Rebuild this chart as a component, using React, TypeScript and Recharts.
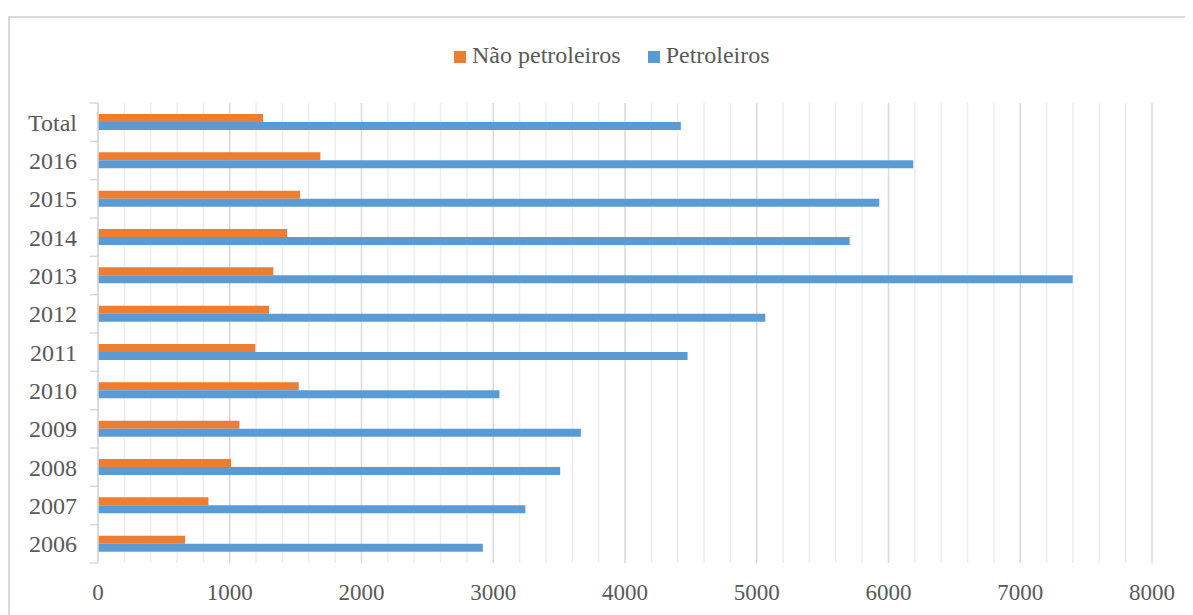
import React from 'react';
import { BarChart, Bar, XAxis, YAxis, CartesianGrid } from 'recharts';

const categories = ['Total', '2016', '2015', '2014', '2013', '2012', '2011', '2010', '2009', '2008', '2007', '2006'];
const naoPetroleiros = [1253, 1688, 1534, 1435, 1331, 1298, 1194, 1524, 1073, 1010, 838, 661];
const petroleiros = [4424, 6188, 5930, 5705, 7398, 5065, 4475, 3047, 3665, 3508, 3244, 2921];
const majorTicks = [0, 1000, 2000, 3000, 4000, 5000, 6000, 7000, 8000];
const minorTicks = [
  200, 400, 600, 800, 1200, 1400, 1600, 1800, 2200, 2400, 2600, 2800,
  3200, 3400, 3600, 3800, 4200, 4400, 4600, 4800, 5200, 5400, 5600, 5800,
  6200, 6400, 6600, 6800, 7200, 7400, 7600, 7800,
];
const xDomain = [0, 8000];
const seriesNames = ['Não petroleiros', 'Petroleiros'];
const seriesColors = ['#ED7D31', '#5B9BD5'];

const data = categories.map((c, i) => ({
  category: c,
  nao: naoPetroleiros[i],
  pet: petroleiros[i],
}));

const FONT = '"Liberation Serif", "Times New Roman", serif';
const TEXT = '#595959';
const W = 1185;
const H = 607;
const MARGIN = { top: 95, right: 41, bottom: 22, left: 10 };
const X_AXIS_H = 30;
const Y_AXIS_W = 80;
const BAND = (H - MARGIN.top - MARGIN.bottom - X_AXIS_H) / categories.length;
const TICK_SIZE = 8;
const TICK_MARGIN = 13;

const YTick = (props: any) => {
  const { x, y, payload, index } = props;
  const axisX = x + TICK_SIZE + TICK_MARGIN;
  return (
    <g>
      {index === 0 && (
        <line x1={axisX - TICK_SIZE} x2={axisX} y1={y - BAND / 2} y2={y - BAND / 2} stroke="#d9d9d9" strokeWidth={1.5} />
      )}
      <line x1={axisX - TICK_SIZE} x2={axisX} y1={y + BAND / 2} y2={y + BAND / 2} stroke="#d9d9d9" strokeWidth={1.5} />
      <text x={x} y={y} dy="0.36em" textAnchor="end" fill={TEXT} fontSize={24} fontFamily={FONT}>
        {payload.value}
      </text>
    </g>
  );
};

const LegendBox = () => (
  <div
    style={{
      position: 'absolute',
      top: 32,
      left: 446,
      height: 30,
      display: 'flex',
      alignItems: 'center',
      fontFamily: FONT,
      fontSize: 24,
      color: TEXT,
      whiteSpace: 'nowrap',
    }}
  >
    {seriesNames.map((n, i) => (
      <div key={n} style={{ display: 'flex', alignItems: 'center', marginRight: i === 0 ? 27 : 0 }}>
        <span style={{ display: 'inline-block', width: 12, height: 12, background: seriesColors[i], marginRight: 6, marginTop: 3 }} />
        <span style={{ lineHeight: '30px', fontFamily: FONT }}>{n}</span>
      </div>
    ))}
  </div>
);

const minorGen = (args: any) => {
  const s = args?.xAxis?.scale;
  if (typeof s === 'function') return minorTicks.map((v) => s(v));
  const off = args?.offset;
  const left = off?.left ?? MARGIN.left + Y_AXIS_W;
  const width = off?.width ?? W - MARGIN.left - MARGIN.right - Y_AXIS_W;
  return minorTicks.map((v) => left + ((v - xDomain[0]) / (xDomain[1] - xDomain[0])) * width);
};

export default function App() {
  return (
    <div style={{ position: 'relative', width: W, height: H, overflow: 'hidden', fontFamily: FONT }}>
      <div style={{ position: 'absolute', top: 8, left: 0, right: -10, bottom: -10, borderTop: '2px solid #d9d9d9', borderLeft: '2px solid #d9d9d9' }} />
      <LegendBox />
      <BarChart
        width={W}
        height={H}
        data={data}
        layout="vertical"
        margin={MARGIN}
        barSize={8}
        barGap={0}
        style={{ position: 'absolute', top: 0, left: 0 }}
      >
        <CartesianGrid horizontal={false} stroke="#ededed" strokeWidth={1.5} verticalCoordinatesGenerator={minorGen} />
        <CartesianGrid horizontal={false} stroke="#d9d9d9" strokeWidth={1.5} />
        <XAxis
          type="number"
          domain={xDomain}
          ticks={majorTicks}
          axisLine={false}
          tickLine={false}
          tickMargin={15}
          height={X_AXIS_H}
          tick={{ fill: TEXT, fontSize: 23, fontFamily: FONT }}
        />
        <YAxis
          type="category"
          dataKey="category"
          width={Y_AXIS_W}
          tickLine={false}
          tickSize={TICK_SIZE}
          tickMargin={TICK_MARGIN}
          axisLine={{ stroke: '#d9d9d9', strokeWidth: 1.5 }}
          tick={<YTick />}
          interval={0}
        />
        <Bar dataKey="nao" name={seriesNames[0]} fill={seriesColors[0]} isAnimationActive={false} />
        <Bar dataKey="pet" name={seriesNames[1]} fill={seriesColors[1]} isAnimationActive={false} />
      </BarChart>
    </div>
  );
}
